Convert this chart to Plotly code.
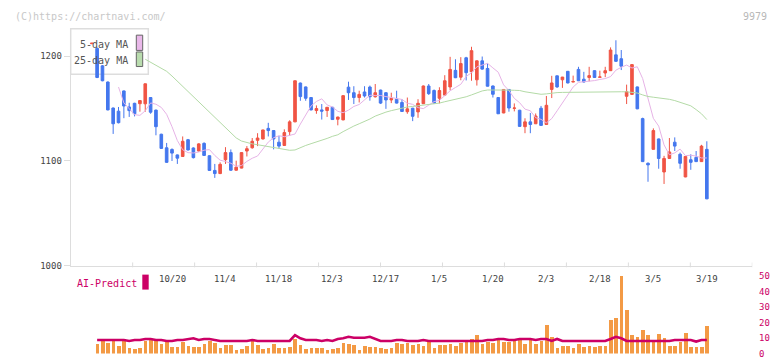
import plotly.graph_objects as go
import pandas as pd

W, H = 772, 361

# ---- price data (index 0 .. 115 = trading days, last = 3/19) ----
opens = [1211.8, 1207.4, 1190.7, 1175.3, 1150.5, 1147.5, 1166.8, 1151.5, 1155.0, 1154.6,
         1154.5, 1160.5, 1148.5, 1125.5, 1112.6, 1111.0, 1105.8, 1104.3, 1120.3, 1112.4,
         1109.5, 1116.8, 1105.0, 1091.0, 1088.0, 1101.2, 1108.0, 1091.2, 1093.2, 1109.5,
         1112.6, 1119.7, 1121.0, 1131.1, 1129.0, 1117.9, 1114.8, 1128.0, 1137.3, 1174.3,
         1170.6, 1160.5, 1148.1, 1148.7, 1148.1, 1151.2, 1139.8, 1139.2, 1170.4, 1165.1,
         1160.5, 1165.8, 1170.5, 1161.2, 1167.6, 1165.1, 1158.2, 1158.9, 1155.8, 1147.0,
         1150.3, 1146.8, 1154.6, 1171.5, 1167.2, 1159.8, 1162.8, 1170.6, 1186.4, 1179.9,
         1198.4, 1185.1, 1177.4, 1195.5, 1188.2, 1171.5, 1160.5, 1145.8, 1168.2, 1150.2,
         1148.4, 1132.7, 1137.3, 1135.5, 1150.3, 1134.8, 1168.2, 1181.2, 1177.4, 1185.5,
         1175.3, 1187.3, 1178.0, 1179.6, 1186.1, 1179.8, 1183.9, 1186.1, 1201.2, 1197.5,
         1161.7, 1163.5, 1170.6, 1140.4, 1097.8, 1111.1, 1121.0, 1089.5, 1102.4, 1117.9,
         1106.4, 1084.8, 1101.2, 1103.4, 1099.4, 1111.1]
highs = [1212.5, 1208.0, 1191.5, 1175.8, 1151.0, 1151.5, 1167.2, 1155.5, 1155.5, 1157.8,
         1173.8, 1161.0, 1149.0, 1126.0, 1117.2, 1112.0, 1106.2, 1123.4, 1121.0, 1113.0,
         1117.0, 1117.8, 1105.5, 1097.2, 1098.7, 1113.2, 1111.0, 1100.3, 1108.3, 1114.2,
         1121.9, 1126.5, 1129.8, 1136.4, 1129.5, 1124.0, 1130.2, 1138.8, 1176.6, 1174.8,
         1171.0, 1161.0, 1153.0, 1154.3, 1151.5, 1151.6, 1142.2, 1162.8, 1175.6, 1171.3,
         1167.0, 1171.3, 1171.9, 1173.4, 1168.0, 1165.5, 1165.1, 1167.0, 1159.0, 1160.5,
         1150.7, 1158.9, 1172.0, 1173.4, 1168.2, 1170.3, 1181.8, 1199.3, 1197.0, 1199.0,
         1199.3, 1208.9, 1195.8, 1199.6, 1192.9, 1172.0, 1161.0, 1168.5, 1168.6, 1154.9,
         1148.8, 1140.7, 1145.8, 1145.3, 1152.5, 1162.0, 1181.2, 1181.4, 1180.2, 1185.8,
         1181.4, 1189.8, 1185.0, 1189.8, 1186.5, 1186.1, 1189.8, 1208.3, 1215.1, 1205.8,
         1172.8, 1192.2, 1171.0, 1141.3, 1098.7, 1131.1, 1121.4, 1104.9, 1121.9, 1122.5,
         1108.0, 1104.6, 1106.4, 1109.5, 1115.4, 1118.8]
lows = [1211.5, 1179.0, 1176.0, 1148.3, 1125.8, 1135.8, 1140.8, 1142.0, 1142.5, 1147.0,
        1147.0, 1145.0, 1124.5, 1111.5, 1098.2, 1100.0, 1097.2, 1104.0, 1110.0, 1102.4,
        1109.0, 1105.0, 1090.5, 1083.9, 1087.5, 1097.2, 1090.5, 1090.8, 1093.0, 1104.3,
        1111.7, 1114.2, 1120.5, 1123.4, 1111.1, 1111.7, 1114.5, 1124.0, 1137.0, 1157.4,
        1157.4, 1148.3, 1145.0, 1139.5, 1142.0, 1139.2, 1134.0, 1138.8, 1158.2, 1154.3,
        1155.8, 1160.5, 1157.5, 1160.5, 1154.3, 1149.7, 1155.2, 1154.8, 1146.8, 1145.0,
        1138.0, 1141.2, 1154.3, 1163.0, 1155.0, 1154.9, 1162.5, 1167.4, 1179.0, 1177.0,
        1176.8, 1176.5, 1171.9, 1187.0, 1171.0, 1160.5, 1144.8, 1145.5, 1147.0, 1147.3,
        1132.5, 1126.5, 1126.5, 1135.2, 1133.6, 1134.5, 1160.0, 1169.7, 1169.7, 1174.0,
        1175.2, 1176.2, 1174.8, 1175.9, 1179.3, 1179.6, 1179.9, 1185.8, 1194.6, 1186.7,
        1154.3, 1163.2, 1149.4, 1099.0, 1080.2, 1110.8, 1092.6, 1078.1, 1102.1, 1109.5,
        1092.6, 1084.5, 1091.6, 1099.0, 1099.1, 1063.6]
closes = [1212.3, 1179.6, 1176.5, 1148.7, 1135.5, 1136.5, 1152.4, 1148.0, 1145.0, 1157.6,
          1173.6, 1146.5, 1132.7, 1112.0, 1098.7, 1107.5, 1102.7, 1118.8, 1110.5, 1103.2,
          1116.3, 1105.3, 1091.0, 1088.0, 1096.8, 1108.0, 1091.2, 1094.1, 1108.0, 1111.7,
          1118.8, 1121.9, 1129.6, 1129.0, 1121.0, 1114.2, 1127.1, 1137.3, 1176.5, 1161.4,
          1159.8, 1148.7, 1150.0, 1147.5, 1151.2, 1139.5, 1141.9, 1162.3, 1165.1, 1160.5,
          1163.5, 1162.0, 1161.2, 1165.1, 1155.2, 1158.2, 1159.7, 1155.2, 1147.2, 1149.7,
          1142.6, 1155.0, 1171.5, 1164.2, 1155.2, 1167.2, 1176.5, 1187.3, 1179.4, 1192.9,
          1184.2, 1205.2, 1195.5, 1187.6, 1171.3, 1163.6, 1145.0, 1168.2, 1150.5, 1150.5,
          1133.0, 1137.3, 1134.8, 1142.9, 1133.9, 1153.1, 1174.4, 1170.6, 1180.0, 1174.4,
          1175.7, 1176.5, 1175.3, 1181.4, 1179.6, 1180.1, 1186.1, 1205.8, 1195.0, 1190.4,
          1166.0, 1191.9, 1149.7, 1099.4, 1096.3, 1129.0, 1102.4, 1102.4, 1108.6, 1114.2,
          1097.8, 1104.3, 1098.7, 1099.4, 1114.2, 1063.9]

# 25-day moving average as drawn (starts at index 10)
ma25_start = 10
ma25 = [1197.0, 1194.0, 1191.0, 1188.0, 1185.5, 1181.0, 1176.0, 1171.5, 1166.7, 1161.5,
        1156.5, 1151.5, 1146.5, 1141.5, 1136.5, 1131.0, 1126.0, 1122.0, 1119.0, 1117.5,
        1116.3, 1115.5, 1114.5, 1113.8, 1113.0, 1112.0, 1111.0, 1110.2, 1110.5, 1113.0,
        1114.8, 1116.5, 1118.0, 1119.3, 1121.5, 1123.5, 1125.0, 1128.0, 1131.0, 1133.3,
        1135.5, 1137.6, 1140.0, 1142.8, 1144.8, 1146.6, 1148.0, 1149.3, 1150.6, 1151.5,
        1152.0, 1152.6, 1153.4, 1154.0, 1154.6, 1155.2, 1156.5, 1157.5, 1158.5, 1159.5,
        1161.2, 1163.0, 1165.0, 1166.8, 1167.7, 1167.8, 1167.9, 1167.8, 1167.6, 1167.4,
        1167.2, 1166.0, 1165.0, 1164.2, 1163.6, 1164.0, 1164.8, 1165.2, 1165.4, 1165.5,
        1165.6, 1165.7, 1165.8, 1166.0, 1166.0, 1166.0, 1166.0, 1166.0, 1166.0, 1166.0,
        1166.0, 1165.5, 1164.8, 1163.0, 1161.5, 1160.8, 1160.2, 1159.8, 1158.8, 1157.6,
        1156.0, 1154.3, 1152.6, 1149.0, 1145.0, 1139.5]

# volume panel (index 1 .. 115)
vol_start = 1
volume = [6.25, 8.1, 7.1, 8.1, 5.2, 8.1, 4.0, 3.1, 4.0, 8.1,
          8.75, 8.1, 6.25, 8.1, 4.6, 4.6, 7.7, 5.2, 4.6, 4.6,
          6.25, 8.1, 7.1, 4.0, 5.6, 5.6, 2.5, 3.1, 5.2, 8.1,
          5.6, 3.1, 4.0, 6.25, 4.0, 4.0, 4.6, 9.8, 5.6, 3.1,
          4.0, 4.0, 4.0, 2.5, 3.1, 4.0, 7.1, 6.25, 5.6, 2.5,
          5.2, 4.6, 4.6, 4.0, 3.1, 4.0, 7.1, 6.25, 7.1, 5.6,
          6.25, 5.2, 7.3, 4.0, 5.6, 5.6, 6.0, 5.2, 7.1, 7.3,
          9.4, 11.9, 6.25, 7.3, 7.1, 8.75, 7.7, 7.7, 9.8, 9.4,
          6.25, 8.75, 6.25, 8.1, 18.75, 10.8, 4.0, 5.2, 5.2, 4.0,
          6.25, 4.6, 5.2, 4.6, 5.2, 5.2, 21.9, 23.3, 50.0, 28.1,
          11.9, 10.8, 15.6, 11.9, 7.3, 12.5, 10.2, 5.2, 5.2, 7.7,
          13.3, 4.6, 4.6, 4.6, 17.7]
ai_predict = [8.75, 8.75, 8.75, 8.75, 8.75, 8.75, 8.1, 8.75, 8.75, 9.4,
              9.4, 8.75, 8.75, 8.1, 8.1, 8.75, 8.75, 9.4, 9.8, 8.75,
              9.4, 9.4, 8.75, 8.1, 8.1, 8.1, 8.1, 8.1, 8.1, 8.75,
              8.1, 8.1, 8.1, 8.1, 8.1, 8.1, 8.1, 11.9, 9.8, 8.75,
              8.75, 8.75, 8.1, 8.75, 8.1, 9.4, 9.8, 10.8, 10.2, 10.2,
              10.2, 10.8, 9.4, 8.1, 8.1, 8.1, 8.75, 8.75, 8.1, 8.1,
              8.1, 8.75, 8.1, 8.1, 8.1, 8.1, 8.1, 8.1, 8.1, 8.1,
              8.1, 8.1, 8.1, 8.75, 8.75, 9.4, 9.4, 8.75, 8.75, 9.4,
              9.4, 9.4, 8.75, 9.4, 9.4, 8.1, 9.4, 8.1, 8.1, 8.1,
              8.1, 8.1, 8.1, 8.1, 8.1, 8.1, 9.4, 10.8, 9.8, 8.1,
              8.1, 8.1, 8.1, 8.1, 8.1, 8.1, 8.1, 8.1, 8.75, 8.75,
              8.75, 8.75, 7.7, 8.75, 8.75]

date_labels = ["10/20", "11/4", "11/18", "12/3", "12/17", "1/5", "1/20", "2/3", "2/18", "3/5", "3/19"]
label_idx = [15, 25, 35, 45, 55, 65, 75, 85, 95, 105, 115]
price_ticks = [1000, 1100, 1200]
vol_ticks = [0, 10, 20, 30, 40, 50]

# ---- derived ----
n = len(closes)
idx = list(range(n))
ma5 = pd.Series(closes).rolling(5).mean().shift(1).tolist()
ma25_x = list(range(ma25_start, ma25_start + len(ma25)))
vol_x = list(range(vol_start, vol_start + len(volume)))

UP, DOWN = "#f05444", "#4477ee"
MONO = "DejaVu Sans Mono"
MAG = "#cc0066"

XR = [-3.94, 123.5]
XD = [70.7 / W, 752.3 / W]

def py(p):  # pixel y -> paper
    return 1 - p / H

fig = go.Figure()
fig.add_trace(go.Scatter(x=idx, y=ma5, mode="lines", line=dict(color="#e6b3e6", width=1),
                         hoverinfo="skip", showlegend=False))
fig.add_trace(go.Scatter(x=ma25_x, y=ma25, mode="lines", line=dict(color="#b3daa6", width=1),
                         hoverinfo="skip", showlegend=False))
fig.add_trace(go.Candlestick(
    x=idx, open=opens, high=highs, low=lows, close=closes,
    increasing=dict(line=dict(color=UP, width=1), fillcolor=UP),
    decreasing=dict(line=dict(color=DOWN, width=1), fillcolor=DOWN),
    whiskerwidth=0, showlegend=False))
fig.add_trace(go.Bar(x=vol_x, y=volume, marker=dict(color="#f39a45", line=dict(width=0)),
                     width=0.68, xaxis="x2", yaxis="y2", showlegend=False))
fig.add_trace(go.Scatter(x=vol_x, y=ai_predict, mode="lines", line=dict(color=MAG, width=2.6),
                         xaxis="x2", yaxis="y2", showlegend=False))

shapes = []
# x-axis division ticks
step = (XR[1] - XR[0]) / 11
for j in range(1, 12):
    xv = XR[0] + step * j
    shapes.append(dict(type="line", xref="x", yref="paper", x0=xv, x1=xv,
                       y0=py(269.8), y1=py(264.8), line=dict(color="#dddddd", width=1)))
# legend box
shapes.append(dict(type="rect", xref="paper", yref="paper", x0=70.7 / W, x1=148.3 / W,
                   y0=py(71.3), y1=py(24.3), line=dict(color="#dddddd", width=1.5),
                   fillcolor="white", layer="below"))
shapes.append(dict(type="rect", xref="paper", yref="paper", x0=136.3 / W, x1=142.7 / W,
                   y0=py(46.7), y1=py(31.0), line=dict(color="#666666", width=1),
                   fillcolor="#e9b8e9"))
shapes.append(dict(type="rect", xref="paper", yref="paper", x0=136.3 / W, x1=142.7 / W,
                   y0=py(63.3), y1=py(48.3), line=dict(color="#666666", width=1),
                   fillcolor="#b9dcae"))
# AI-Predict marker box
shapes.append(dict(type="rect", xref="paper", yref="paper", x0=142.3 / W, x1=148.7 / W,
                   y0=py(292.7), y1=py(277.3), line=dict(width=0), fillcolor=MAG))

annotations = []
for lab, i in zip(date_labels, label_idx):
    annotations.append(dict(x=i, y=py(282), xref="x", yref="paper", text=lab, showarrow=False,
                            xanchor="center", yanchor="middle",
                            font=dict(family=MONO, size=9, color="#444444")))
annotations += [
    dict(x=130 / W, y=py(40.7), xref="paper", yref="paper", text="5-day MA", showarrow=False,
         xanchor="right", yanchor="middle", font=dict(family=MONO, size=10, color="#555555")),
    dict(x=130 / W, y=py(56.7), xref="paper", yref="paper", text="25-day MA", showarrow=False,
         xanchor="right", yanchor="middle", font=dict(family=MONO, size=10, color="#555555")),
    dict(x=13 / W, y=py(12), xref="paper", yref="paper", text="(C)https://chartnavi.com/",
         showarrow=False, xanchor="left", yanchor="middle",
         font=dict(family=MONO, size=10, color="#c8c8c8")),
    dict(x=769 / W, y=py(12), xref="paper", yref="paper", text="9979", showarrow=False,
         xanchor="right", yanchor="middle", font=dict(family=MONO, size=10, color="#b8b8b8")),
    dict(x=75 / W, y=py(286), xref="paper", yref="paper", text="AI-Predict", showarrow=False,
         xanchor="left", yanchor="middle", font=dict(family=MONO, size=10, color=MAG)),
]

fig.update_layout(
    width=W, height=H, autosize=False, margin=dict(l=0, r=0, t=0, b=0, pad=0),
    paper_bgcolor="white", plot_bgcolor="white", showlegend=False,
    shapes=shapes, annotations=annotations, bargap=0,
    xaxis=dict(domain=XD, range=XR, anchor="y", showline=True, linecolor="#dddddd",
               showticklabels=False, ticks="", showgrid=False, zeroline=False,
               rangeslider=dict(visible=False), fixedrange=True),
    yaxis=dict(domain=[py(268.3), py(24.3)], range=[1000, 1226.2], anchor="x",
               tickvals=price_ticks, ticks="outside", ticklen=6, tickcolor="#dddddd",
               showline=True, linecolor="#dddddd", showgrid=False, zeroline=False,
               tickfont=dict(family=MONO, size=9, color="#444444")),
    xaxis2=dict(domain=XD, range=XR, anchor="y2", visible=False),
    yaxis2=dict(domain=[py(358.5), py(278.5)], range=[0, 50], anchor="x2", side="right",
                tickvals=vol_ticks, ticks="outside", ticklen=4, tickcolor="rgba(0,0,0,0)",
                showline=False, showgrid=False, zeroline=False,
                tickfont=dict(family=MONO, size=9, color=MAG)),
)

fig.write_html(
    "out.html",
    config={"displayModeBar": False, "responsive": False},
    post_script="document.body.style.margin='0';document.body.style.padding='0';"
                "document.documentElement.style.overflow='hidden';",
)
